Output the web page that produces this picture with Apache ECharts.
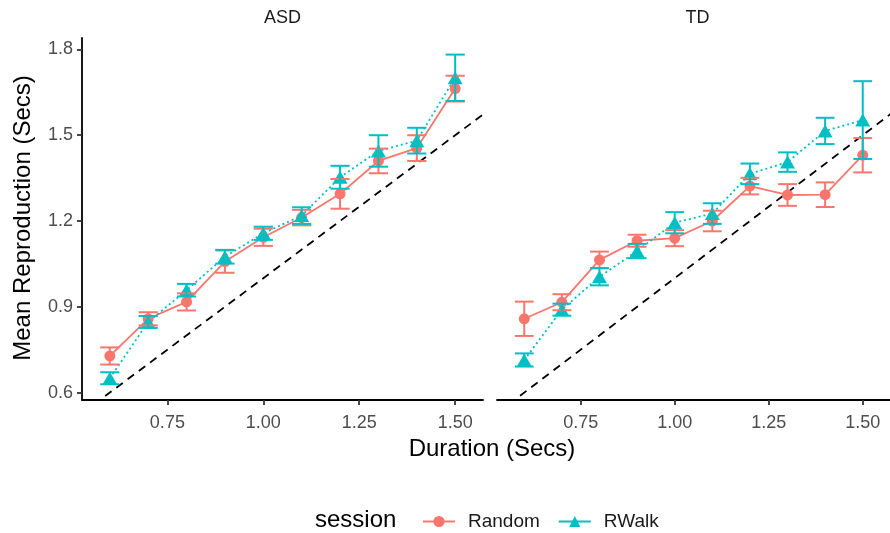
<!DOCTYPE html>
<html><head><meta charset="utf-8">
<script src="https://cdn.jsdelivr.net/npm/echarts@6/dist/echarts.min.js"></script>
<style>html,body{margin:0;padding:0;background:#fff}#c{width:890px;height:533px}</style>
</head><body><div id="c"></div>
<script>
// ---- data ----
const panels = ['ASD', 'TD'];
const sessions = ['Random', 'RWalk'];
const durations = [0.6, 0.7, 0.8, 0.9, 1.0, 1.1, 1.2, 1.3, 1.4, 1.5];

const asdRandomMean = [0.728, 0.858, 0.917, 1.058, 1.143, 1.212, 1.295, 1.410, 1.455, 1.663];
const asdRandomErr  = [0.030, 0.023, 0.030, 0.039, 0.030, 0.027, 0.052, 0.043, 0.045, 0.045];
const asdRWalkMean  = [0.650, 0.847, 0.958, 1.075, 1.157, 1.219, 1.353, 1.445, 1.481, 1.701];
const asdRWalkErr   = [0.021, 0.021, 0.022, 0.024, 0.023, 0.029, 0.040, 0.055, 0.045, 0.081];

const tdRandomMean  = [0.858, 0.916, 1.064, 1.131, 1.140, 1.200, 1.322, 1.291, 1.292, 1.430];
const tdRandomErr   = [0.060, 0.028, 0.029, 0.021, 0.028, 0.036, 0.029, 0.038, 0.043, 0.060];
const tdRWalkMean   = [0.714, 0.890, 1.005, 1.095, 1.194, 1.226, 1.365, 1.406, 1.515, 1.553];
const tdRWalkErr    = [0.023, 0.021, 0.030, 0.025, 0.037, 0.036, 0.036, 0.034, 0.046, 0.136];

const xTicks = [0.75, 1.00, 1.25, 1.50];
const yTicks = [0.6, 0.9, 1.2, 1.5, 1.8];
const identityEnds = [0.5, 1.6];   // reference line y = x

// ---- build ----
const means = { ASD: { Random: asdRandomMean, RWalk: asdRWalkMean }, TD: { Random: tdRandomMean, RWalk: tdRWalkMean } };
const errs  = { ASD: { Random: asdRandomErr,  RWalk: asdRWalkErr  }, TD: { Random: tdRandomErr,  RWalk: tdRWalkErr  } };
const colors = { Random: '#F8766D', RWalk: '#00BFC4' };
const FONT = '"Liberation Sans", Arial, Helvetica, sans-serif';
const capHalf = 0.025;

function errRender(color) {
  return function (params, api) {
    const x = api.value(0), lo = api.value(1), hi = api.value(2);
    const a = api.coord([x, lo]), b = api.coord([x, hi]);
    const hw = api.size([capHalf, 0])[0];
    const style = { stroke: color, lineWidth: 2, fill: null };
    return { type: 'group', children: [
      { type: 'line', shape: { x1: a[0], y1: a[1], x2: b[0], y2: b[1] }, style },
      { type: 'line', shape: { x1: a[0] - hw, y1: a[1], x2: a[0] + hw, y2: a[1] }, style },
      { type: 'line', shape: { x1: b[0] - hw, y1: b[1], x2: b[0] + hw, y2: b[1] }, style }
    ]};
  };
}

const grids = [
  { left: 82, right: 407, top: 38, bottom: 133 },
  { left: 497, right: -8, top: 38, bottom: 133 }
];
const xAxes = [], yAxes = [], series = [];
panels.forEach((p, pi) => {
  xAxes.push({
    type: 'value', gridIndex: pi, min: 0.5275, max: 1.5725,
    axisLine: { show: true, lineStyle: { color: '#000', width: 1.8 } },
    axisTick: { show: true, length: 5, lineStyle: { color: '#333', width: 1.8 }, customValues: xTicks },
    axisLabel: { show: true, margin: 14, fontSize: 18, color: '#4d4d4d', fontFamily: FONT,
      customValues: xTicks, formatter: v => v.toFixed(2) },
    splitLine: { show: false }
  });
  yAxes.push({
    type: 'value', gridIndex: pi, min: 0.574, max: 1.84,
    axisLine: { show: pi === 0, onZero: false, lineStyle: { color: '#000', width: 1.8 } },
    axisTick: { show: pi === 0, length: 5, lineStyle: { color: '#333', width: 1.8 }, customValues: yTicks },
    axisLabel: { show: pi === 0, margin: 9, fontSize: 18, color: '#4d4d4d', fontFamily: FONT,
      customValues: yTicks, formatter: v => v.toFixed(1) },
    splitLine: { show: false }
  });
  series.push({
    type: 'line', name: 'identity', xAxisIndex: pi, yAxisIndex: pi, silent: true, z: 1,
    data: identityEnds.map(v => [v, v]), symbol: 'none', clip: true,
    lineStyle: { color: '#000', width: 1.8, type: [8, 6] }
  });
  sessions.forEach(s => {
    const m = means[p][s], e = errs[p][s];
    series.push({
      type: 'line', name: s, xAxisIndex: pi, yAxisIndex: pi, z: 2,
      data: durations.map((d, i) => [d, m[i]]),
      symbol: s === 'Random' ? 'circle' : 'triangle',
      symbolSize: s === 'Random' ? 11 : [15, 13],
      itemStyle: { color: colors[s] },
      lineStyle: { color: colors[s], width: 1.8, type: s === 'Random' ? 'solid' : [2, 3] }
    });
    series.push({
      type: 'custom', name: s + ' err', xAxisIndex: pi, yAxisIndex: pi, z: 3, silent: true,
      renderItem: errRender(colors[s]),
      encode: { x: 0, y: [1, 2] },
      data: durations.map((d, i) => [d, m[i] - e[i], m[i] + e[i]])
    });
  });
});

const chart = echarts.init(document.getElementById('c'), null, { renderer: 'canvas' });
chart.setOption({
  animation: false,
  backgroundColor: '#fff',
  grid: grids,
  xAxis: xAxes,
  yAxis: yAxes,
  series: series,
  legend: {
    data: sessions.map(s => ({ name: s, lineStyle: { type: 'solid', width: 2 } })),
    left: 417, top: 507, itemWidth: 32, itemHeight: 14, itemGap: 18,
    textStyle: { fontSize: 19, color: '#1a1a1a', fontFamily: FONT, padding: [0, 0, 0, 8] }
  },
  graphic: [
    { type: 'text', x: 282.5, y: 18, style: { text: panels[0], fill: '#1a1a1a', font: '18px ' + FONT, textAlign: 'center', textVerticalAlign: 'middle' } },
    { type: 'text', x: 697.5, y: 18, style: { text: panels[1], fill: '#1a1a1a', font: '18px ' + FONT, textAlign: 'center', textVerticalAlign: 'middle' } },
    { type: 'text', x: 492, y: 449, style: { text: 'Duration (Secs)', fill: '#000', font: '24px ' + FONT, textAlign: 'center', textVerticalAlign: 'middle' } },
    { type: 'text', x: 23, y: 218, rotation: Math.PI / 2, style: { text: 'Mean Reproduction (Secs)', fill: '#000', font: '24px ' + FONT, textAlign: 'center', textVerticalAlign: 'middle' } },
    { type: 'text', x: 315, y: 520, style: { text: 'session', fill: '#000', font: '24px ' + FONT, textAlign: 'left', textVerticalAlign: 'middle' } }
  ]
});
</script></body></html>
